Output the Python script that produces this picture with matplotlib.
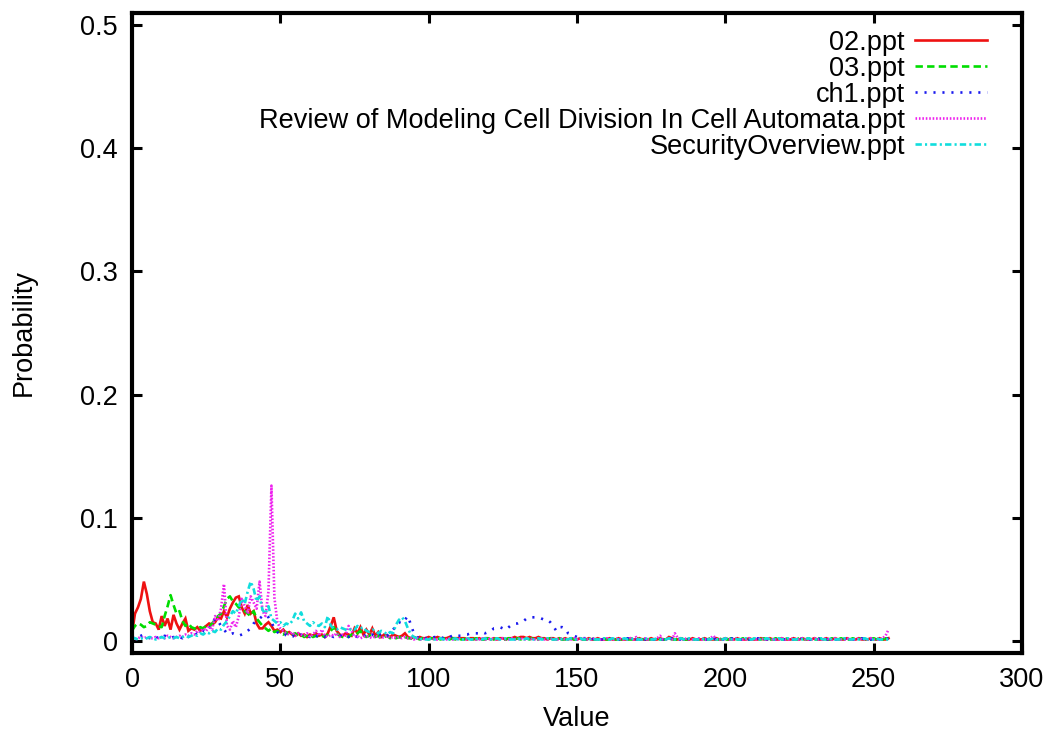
import matplotlib
matplotlib.use("Agg")
import matplotlib.pyplot as plt

# ---------------- data ----------------
values = list(range(256))

series_names = ["02.ppt", "03.ppt", "ch1.ppt",
                "Review of Modeling Cell Division In Cell Automata.ppt",
                "SecurityOverview.ppt"]

p_02 = [
    0.006, 0.022, 0.027, 0.034, 0.048, 0.038, 0.024, 0.015, 0.014, 0.009, 0.020, 0.012, 0.018, 0.009, 0.021, 0.014,
    0.009, 0.014, 0.018, 0.008, 0.010, 0.009, 0.011, 0.008, 0.010, 0.012, 0.014, 0.013, 0.015, 0.019, 0.018, 0.024,
    0.019, 0.026, 0.031, 0.035, 0.036, 0.027, 0.022, 0.029, 0.022, 0.024, 0.014, 0.010, 0.010, 0.013, 0.015, 0.012,
    0.008, 0.009, 0.007, 0.009, 0.006, 0.007, 0.005, 0.004, 0.006, 0.004, 0.005, 0.003, 0.005, 0.004, 0.006, 0.004,
    0.005, 0.003, 0.006, 0.012, 0.019, 0.008, 0.005, 0.004, 0.006, 0.005, 0.004, 0.010, 0.006, 0.011, 0.005, 0.009,
    0.005, 0.010, 0.004, 0.007, 0.003, 0.005, 0.004, 0.003, 0.005, 0.004, 0.003, 0.004, 0.006, 0.003, 0.002, 0.003,
    0.002, 0.003, 0.002, 0.002, 0.003, 0.002, 0.002, 0.003, 0.002, 0.002, 0.002, 0.003, 0.002, 0.002, 0.002, 0.002,
    0.002, 0.001, 0.002, 0.002, 0.001, 0.002, 0.001, 0.002, 0.002, 0.001, 0.002, 0.001, 0.002, 0.002, 0.001, 0.002,
    0.002, 0.003, 0.002, 0.003, 0.003, 0.002, 0.003, 0.002, 0.002, 0.003, 0.002, 0.002, 0.001, 0.002, 0.002, 0.001,
    0.002, 0.001, 0.002, 0.001, 0.002, 0.001, 0.001, 0.002, 0.001, 0.001, 0.002, 0.001, 0.001, 0.002, 0.001, 0.001,
    0.001, 0.002, 0.001, 0.001, 0.002, 0.001, 0.001, 0.001, 0.002, 0.001, 0.001, 0.002, 0.001, 0.001, 0.001, 0.002,
    0.001, 0.001, 0.002, 0.001, 0.001, 0.003, 0.002, 0.001, 0.001, 0.002, 0.001, 0.001, 0.001, 0.002, 0.001, 0.001,
    0.001, 0.002, 0.001, 0.001, 0.001, 0.002, 0.001, 0.001, 0.002, 0.001, 0.001, 0.001, 0.002, 0.001, 0.001, 0.001,
    0.002, 0.001, 0.001, 0.001, 0.002, 0.001, 0.001, 0.002, 0.001, 0.001, 0.001, 0.002, 0.001, 0.001, 0.001, 0.002,
    0.001, 0.001, 0.002, 0.001, 0.001, 0.001, 0.002, 0.001, 0.001, 0.001, 0.002, 0.001, 0.001, 0.002, 0.001, 0.001,
    0.001, 0.002, 0.001, 0.001, 0.001, 0.002, 0.001, 0.001, 0.001, 0.002, 0.001, 0.001, 0.002, 0.001, 0.001, 0.002,
]

p_03 = [
    0.008, 0.012, 0.014, 0.013, 0.011, 0.012, 0.015, 0.014, 0.013, 0.012, 0.011, 0.020, 0.028, 0.037, 0.029, 0.022,
    0.024, 0.016, 0.012, 0.014, 0.011, 0.010, 0.009, 0.011, 0.010, 0.012, 0.011, 0.014, 0.017, 0.020, 0.022, 0.028,
    0.034, 0.036, 0.032, 0.030, 0.027, 0.026, 0.024, 0.022, 0.020, 0.024, 0.018, 0.015, 0.012, 0.010, 0.008, 0.010,
    0.007, 0.008, 0.006, 0.005, 0.007, 0.004, 0.005, 0.006, 0.004, 0.005, 0.003, 0.004, 0.005, 0.003, 0.004, 0.003,
    0.004, 0.003, 0.005, 0.008, 0.011, 0.006, 0.004, 0.003, 0.004, 0.003, 0.005, 0.004, 0.006, 0.008, 0.004, 0.003,
    0.004, 0.005, 0.003, 0.004, 0.002, 0.003, 0.004, 0.002, 0.003, 0.002, 0.003, 0.002, 0.003, 0.002, 0.002, 0.001,
    0.002, 0.001, 0.002, 0.002, 0.001, 0.002, 0.001, 0.002, 0.001, 0.002, 0.001, 0.001, 0.002, 0.001, 0.002, 0.001,
    0.001, 0.002, 0.001, 0.001, 0.002, 0.001, 0.001, 0.001, 0.002, 0.001, 0.001, 0.002, 0.001, 0.001, 0.001, 0.002,
    0.001, 0.001, 0.002, 0.001, 0.002, 0.002, 0.001, 0.002, 0.001, 0.001, 0.002, 0.001, 0.001, 0.002, 0.001, 0.001,
    0.002, 0.001, 0.001, 0.001, 0.002, 0.001, 0.001, 0.002, 0.001, 0.001, 0.001, 0.002, 0.001, 0.001, 0.001, 0.002,
    0.001, 0.001, 0.002, 0.001, 0.001, 0.001, 0.002, 0.001, 0.001, 0.001, 0.002, 0.001, 0.001, 0.002, 0.001, 0.001,
    0.001, 0.002, 0.001, 0.001, 0.001, 0.002, 0.001, 0.001, 0.001, 0.002, 0.001, 0.001, 0.002, 0.001, 0.001, 0.001,
    0.002, 0.001, 0.001, 0.002, 0.001, 0.001, 0.001, 0.002, 0.001, 0.001, 0.002, 0.001, 0.001, 0.001, 0.002, 0.001,
    0.001, 0.001, 0.002, 0.001, 0.001, 0.002, 0.001, 0.001, 0.001, 0.002, 0.001, 0.001, 0.001, 0.002, 0.001, 0.001,
    0.001, 0.002, 0.001, 0.001, 0.002, 0.001, 0.001, 0.001, 0.002, 0.001, 0.001, 0.001, 0.002, 0.001, 0.001, 0.002,
    0.001, 0.001, 0.001, 0.002, 0.001, 0.001, 0.002, 0.001, 0.001, 0.001, 0.002, 0.001, 0.001, 0.001, 0.002, 0.001,
]

p_ch1 = [
    0.003, 0.002, 0.003, 0.004, 0.005, 0.003, 0.002, 0.003, 0.002, 0.003, 0.002, 0.004, 0.003, 0.002, 0.003, 0.002,
    0.003, 0.002, 0.004, 0.003, 0.005, 0.004, 0.006, 0.005, 0.008, 0.007, 0.010, 0.014, 0.018, 0.016, 0.012, 0.009,
    0.006, 0.005, 0.006, 0.005, 0.004, 0.005, 0.006, 0.008, 0.010, 0.014, 0.016, 0.018, 0.020, 0.021, 0.019, 0.015,
    0.010, 0.007, 0.005, 0.004, 0.005, 0.003, 0.004, 0.003, 0.004, 0.005, 0.003, 0.004, 0.003, 0.005, 0.004, 0.003,
    0.004, 0.003, 0.005, 0.004, 0.003, 0.004, 0.005, 0.003, 0.004, 0.003, 0.005, 0.004, 0.003, 0.004, 0.005, 0.003,
    0.004, 0.005, 0.003, 0.004, 0.006, 0.005, 0.004, 0.007, 0.009, 0.012, 0.015, 0.014, 0.017, 0.020, 0.013, 0.006,
    0.003, 0.002, 0.003, 0.002, 0.003, 0.002, 0.003, 0.002, 0.003, 0.002, 0.003, 0.003, 0.004, 0.003, 0.004, 0.004,
    0.005, 0.005, 0.006, 0.006, 0.006, 0.006, 0.007, 0.006, 0.007, 0.008, 0.010, 0.010, 0.011, 0.010, 0.009, 0.011,
    0.013, 0.014, 0.014, 0.015, 0.016, 0.018, 0.019, 0.019, 0.019, 0.019, 0.018, 0.017, 0.017, 0.015, 0.012, 0.008,
    0.011, 0.011, 0.010, 0.006, 0.005, 0.004, 0.003, 0.003, 0.002, 0.002, 0.002, 0.001, 0.002, 0.001, 0.001, 0.001,
    0.001, 0.001, 0.002, 0.001, 0.001, 0.001, 0.001, 0.002, 0.001, 0.001, 0.001, 0.001, 0.002, 0.001, 0.001, 0.001,
    0.001, 0.002, 0.001, 0.001, 0.001, 0.001, 0.002, 0.001, 0.001, 0.001, 0.001, 0.002, 0.001, 0.001, 0.001, 0.001,
    0.002, 0.001, 0.001, 0.001, 0.001, 0.002, 0.001, 0.001, 0.001, 0.001, 0.002, 0.001, 0.001, 0.001, 0.001, 0.002,
    0.001, 0.001, 0.001, 0.002, 0.001, 0.001, 0.001, 0.001, 0.002, 0.001, 0.001, 0.001, 0.001, 0.002, 0.001, 0.001,
    0.001, 0.001, 0.002, 0.001, 0.001, 0.001, 0.001, 0.002, 0.001, 0.001, 0.001, 0.001, 0.002, 0.001, 0.001, 0.001,
    0.001, 0.002, 0.001, 0.001, 0.001, 0.001, 0.002, 0.001, 0.001, 0.001, 0.001, 0.002, 0.001, 0.001, 0.001, 0.002,
]

p_review = [
    0.002, 0.001, 0.002, 0.003, 0.002, 0.003, 0.002, 0.002, 0.003, 0.002, 0.003, 0.002, 0.004, 0.003, 0.002, 0.003,
    0.004, 0.003, 0.005, 0.004, 0.006, 0.005, 0.008, 0.007, 0.010, 0.008, 0.012, 0.009, 0.020, 0.016, 0.026, 0.046,
    0.012, 0.009, 0.016, 0.011, 0.020, 0.034, 0.028, 0.022, 0.036, 0.031, 0.026, 0.048, 0.024, 0.020, 0.040, 0.126,
    0.035, 0.015, 0.010, 0.008, 0.006, 0.005, 0.007, 0.004, 0.006, 0.005, 0.004, 0.006, 0.003, 0.005, 0.008, 0.004,
    0.009, 0.004, 0.003, 0.005, 0.004, 0.006, 0.003, 0.005, 0.004, 0.012, 0.008, 0.003, 0.004, 0.002, 0.003, 0.004,
    0.003, 0.002, 0.004, 0.003, 0.002, 0.003, 0.004, 0.002, 0.003, 0.002, 0.003, 0.002, 0.003, 0.002, 0.002, 0.001,
    0.002, 0.001, 0.001, 0.002, 0.001, 0.002, 0.001, 0.001, 0.002, 0.001, 0.001, 0.002, 0.001, 0.001, 0.002, 0.001,
    0.001, 0.001, 0.002, 0.001, 0.001, 0.001, 0.002, 0.001, 0.001, 0.002, 0.001, 0.001, 0.001, 0.002, 0.001, 0.001,
    0.002, 0.001, 0.001, 0.002, 0.001, 0.001, 0.002, 0.001, 0.001, 0.001, 0.002, 0.001, 0.001, 0.002, 0.001, 0.001,
    0.001, 0.002, 0.001, 0.001, 0.001, 0.002, 0.001, 0.001, 0.002, 0.001, 0.001, 0.001, 0.002, 0.001, 0.001, 0.001,
    0.002, 0.001, 0.001, 0.001, 0.002, 0.001, 0.001, 0.001, 0.002, 0.001, 0.003, 0.001, 0.001, 0.002, 0.001, 0.001,
    0.001, 0.002, 0.004, 0.001, 0.001, 0.002, 0.001, 0.006, 0.002, 0.001, 0.001, 0.002, 0.001, 0.001, 0.001, 0.002,
    0.001, 0.001, 0.001, 0.002, 0.004, 0.001, 0.001, 0.001, 0.002, 0.001, 0.001, 0.001, 0.002, 0.001, 0.001, 0.001,
    0.002, 0.001, 0.001, 0.001, 0.002, 0.001, 0.001, 0.002, 0.001, 0.001, 0.001, 0.002, 0.001, 0.001, 0.001, 0.002,
    0.001, 0.001, 0.002, 0.001, 0.001, 0.001, 0.002, 0.001, 0.001, 0.001, 0.002, 0.001, 0.001, 0.002, 0.001, 0.001,
    0.001, 0.002, 0.001, 0.001, 0.001, 0.002, 0.001, 0.001, 0.001, 0.002, 0.001, 0.001, 0.001, 0.002, 0.004, 0.009,
]

p_security = [
    0.001, 0.002, 0.001, 0.002, 0.001, 0.002, 0.003, 0.002, 0.001, 0.002, 0.003, 0.002, 0.002, 0.003, 0.002, 0.003,
    0.002, 0.003, 0.004, 0.003, 0.004, 0.005, 0.004, 0.006, 0.005, 0.007, 0.006, 0.008, 0.007, 0.010, 0.009, 0.013,
    0.016, 0.020, 0.024, 0.022, 0.028, 0.034, 0.030, 0.040, 0.048, 0.042, 0.032, 0.036, 0.025, 0.022, 0.028, 0.018,
    0.016, 0.014, 0.015, 0.012, 0.014, 0.013, 0.016, 0.022, 0.018, 0.023, 0.016, 0.014, 0.012, 0.015, 0.013, 0.012,
    0.014, 0.011, 0.020, 0.012, 0.010, 0.009, 0.011, 0.010, 0.009, 0.008, 0.010, 0.009, 0.012, 0.010, 0.011, 0.008,
    0.007, 0.009, 0.008, 0.006, 0.008, 0.007, 0.005, 0.007, 0.006, 0.013, 0.017, 0.019, 0.016, 0.010, 0.005, 0.003,
    0.002, 0.001, 0.002, 0.001, 0.001, 0.002, 0.001, 0.001, 0.002, 0.001, 0.002, 0.001, 0.001, 0.002, 0.001, 0.001,
    0.001, 0.002, 0.001, 0.001, 0.001, 0.002, 0.001, 0.002, 0.001, 0.001, 0.001, 0.002, 0.001, 0.001, 0.002, 0.001,
    0.001, 0.001, 0.002, 0.001, 0.001, 0.002, 0.001, 0.001, 0.001, 0.002, 0.001, 0.001, 0.002, 0.001, 0.001, 0.001,
    0.002, 0.001, 0.001, 0.001, 0.002, 0.001, 0.001, 0.002, 0.001, 0.001, 0.001, 0.002, 0.001, 0.001, 0.001, 0.002,
    0.001, 0.001, 0.002, 0.001, 0.001, 0.001, 0.002, 0.001, 0.001, 0.002, 0.001, 0.001, 0.001, 0.002, 0.001, 0.001,
    0.001, 0.002, 0.001, 0.001, 0.001, 0.002, 0.001, 0.001, 0.001, 0.002, 0.001, 0.001, 0.002, 0.001, 0.001, 0.001,
    0.002, 0.001, 0.001, 0.001, 0.002, 0.001, 0.001, 0.001, 0.002, 0.001, 0.001, 0.002, 0.001, 0.001, 0.001, 0.002,
    0.001, 0.001, 0.002, 0.001, 0.001, 0.001, 0.002, 0.001, 0.001, 0.001, 0.002, 0.001, 0.001, 0.002, 0.001, 0.001,
    0.001, 0.002, 0.001, 0.001, 0.002, 0.001, 0.001, 0.001, 0.002, 0.001, 0.001, 0.001, 0.002, 0.001, 0.001, 0.001,
    0.002, 0.001, 0.001, 0.001, 0.002, 0.001, 0.001, 0.002, 0.001, 0.001, 0.001, 0.002, 0.001, 0.001, 0.001, 0.001,
]

x_ticks = [0, 50, 100, 150, 200, 250, 300]
x_tick_labels = ["0", "50", "100", "150", "200", "250", "300"]
y_ticks = [0, 0.1, 0.2, 0.3, 0.4, 0.5]
y_tick_labels = ["0", "0.1", "0.2", "0.3", "0.4", "0.5"]

all_series = [p_02, p_03, p_ch1, p_review, p_security]
for s in all_series:
    assert len(s) == len(values), len(s)

# ---------------- style ----------------
plt.rcParams['font.family'] = ['Liberation Sans', 'DejaVu Sans']
FS = 19.5

lw = 1.9
styles = [
    dict(color='#ee1111', linestyle='-'),
    dict(color='#00dd00', linestyle=(0, (2.8, 1.6))),
    dict(color='#1a1aee', linestyle=(0, (0.8, 2.6))),
    dict(color='#ee22ee', linestyle=(0, (0.6, 0.7))),
    dict(color='#11dddd', linestyle=(0, (2.4, 1.2, 0.8, 1.2))),
]

W, H = 1052, 734
fig = plt.figure(figsize=(W / 100, H / 100), dpi=100)
ax = fig.add_axes([132 / W, (H - 653) / H, 890 / W, 640 / H])

for name, ys, st in zip(series_names, all_series, styles):
    ax.plot(values, ys, label=name, linewidth=lw, dash_capstyle='butt',
            solid_joinstyle='miter', **st)

ax.set_xlim(0, 300)
ax.set_ylim(-0.01, 0.51)
ax.set_xticks(x_ticks)
ax.set_xticklabels(x_tick_labels)
ax.set_yticks(y_ticks)
ax.set_yticklabels(y_tick_labels)

for sp in ax.spines.values():
    sp.set_linewidth(3)
ax.tick_params(direction='in', length=7, width=2.2, top=True, right=True,
               labelsize=FS, pad=10)

ax.set_xlabel("Value", fontsize=FS, labelpad=9.5)
ax.set_ylabel("Probability", fontsize=FS, labelpad=31)

ax.legend(loc='upper right', bbox_to_anchor=(0.961, 0.974), markerfirst=False,
          frameon=False, fontsize=FS, handlelength=2.67, handletextpad=0.37,
          labelspacing=0.0, borderpad=0, borderaxespad=0)

fig.savefig("out.png", dpi=100)
